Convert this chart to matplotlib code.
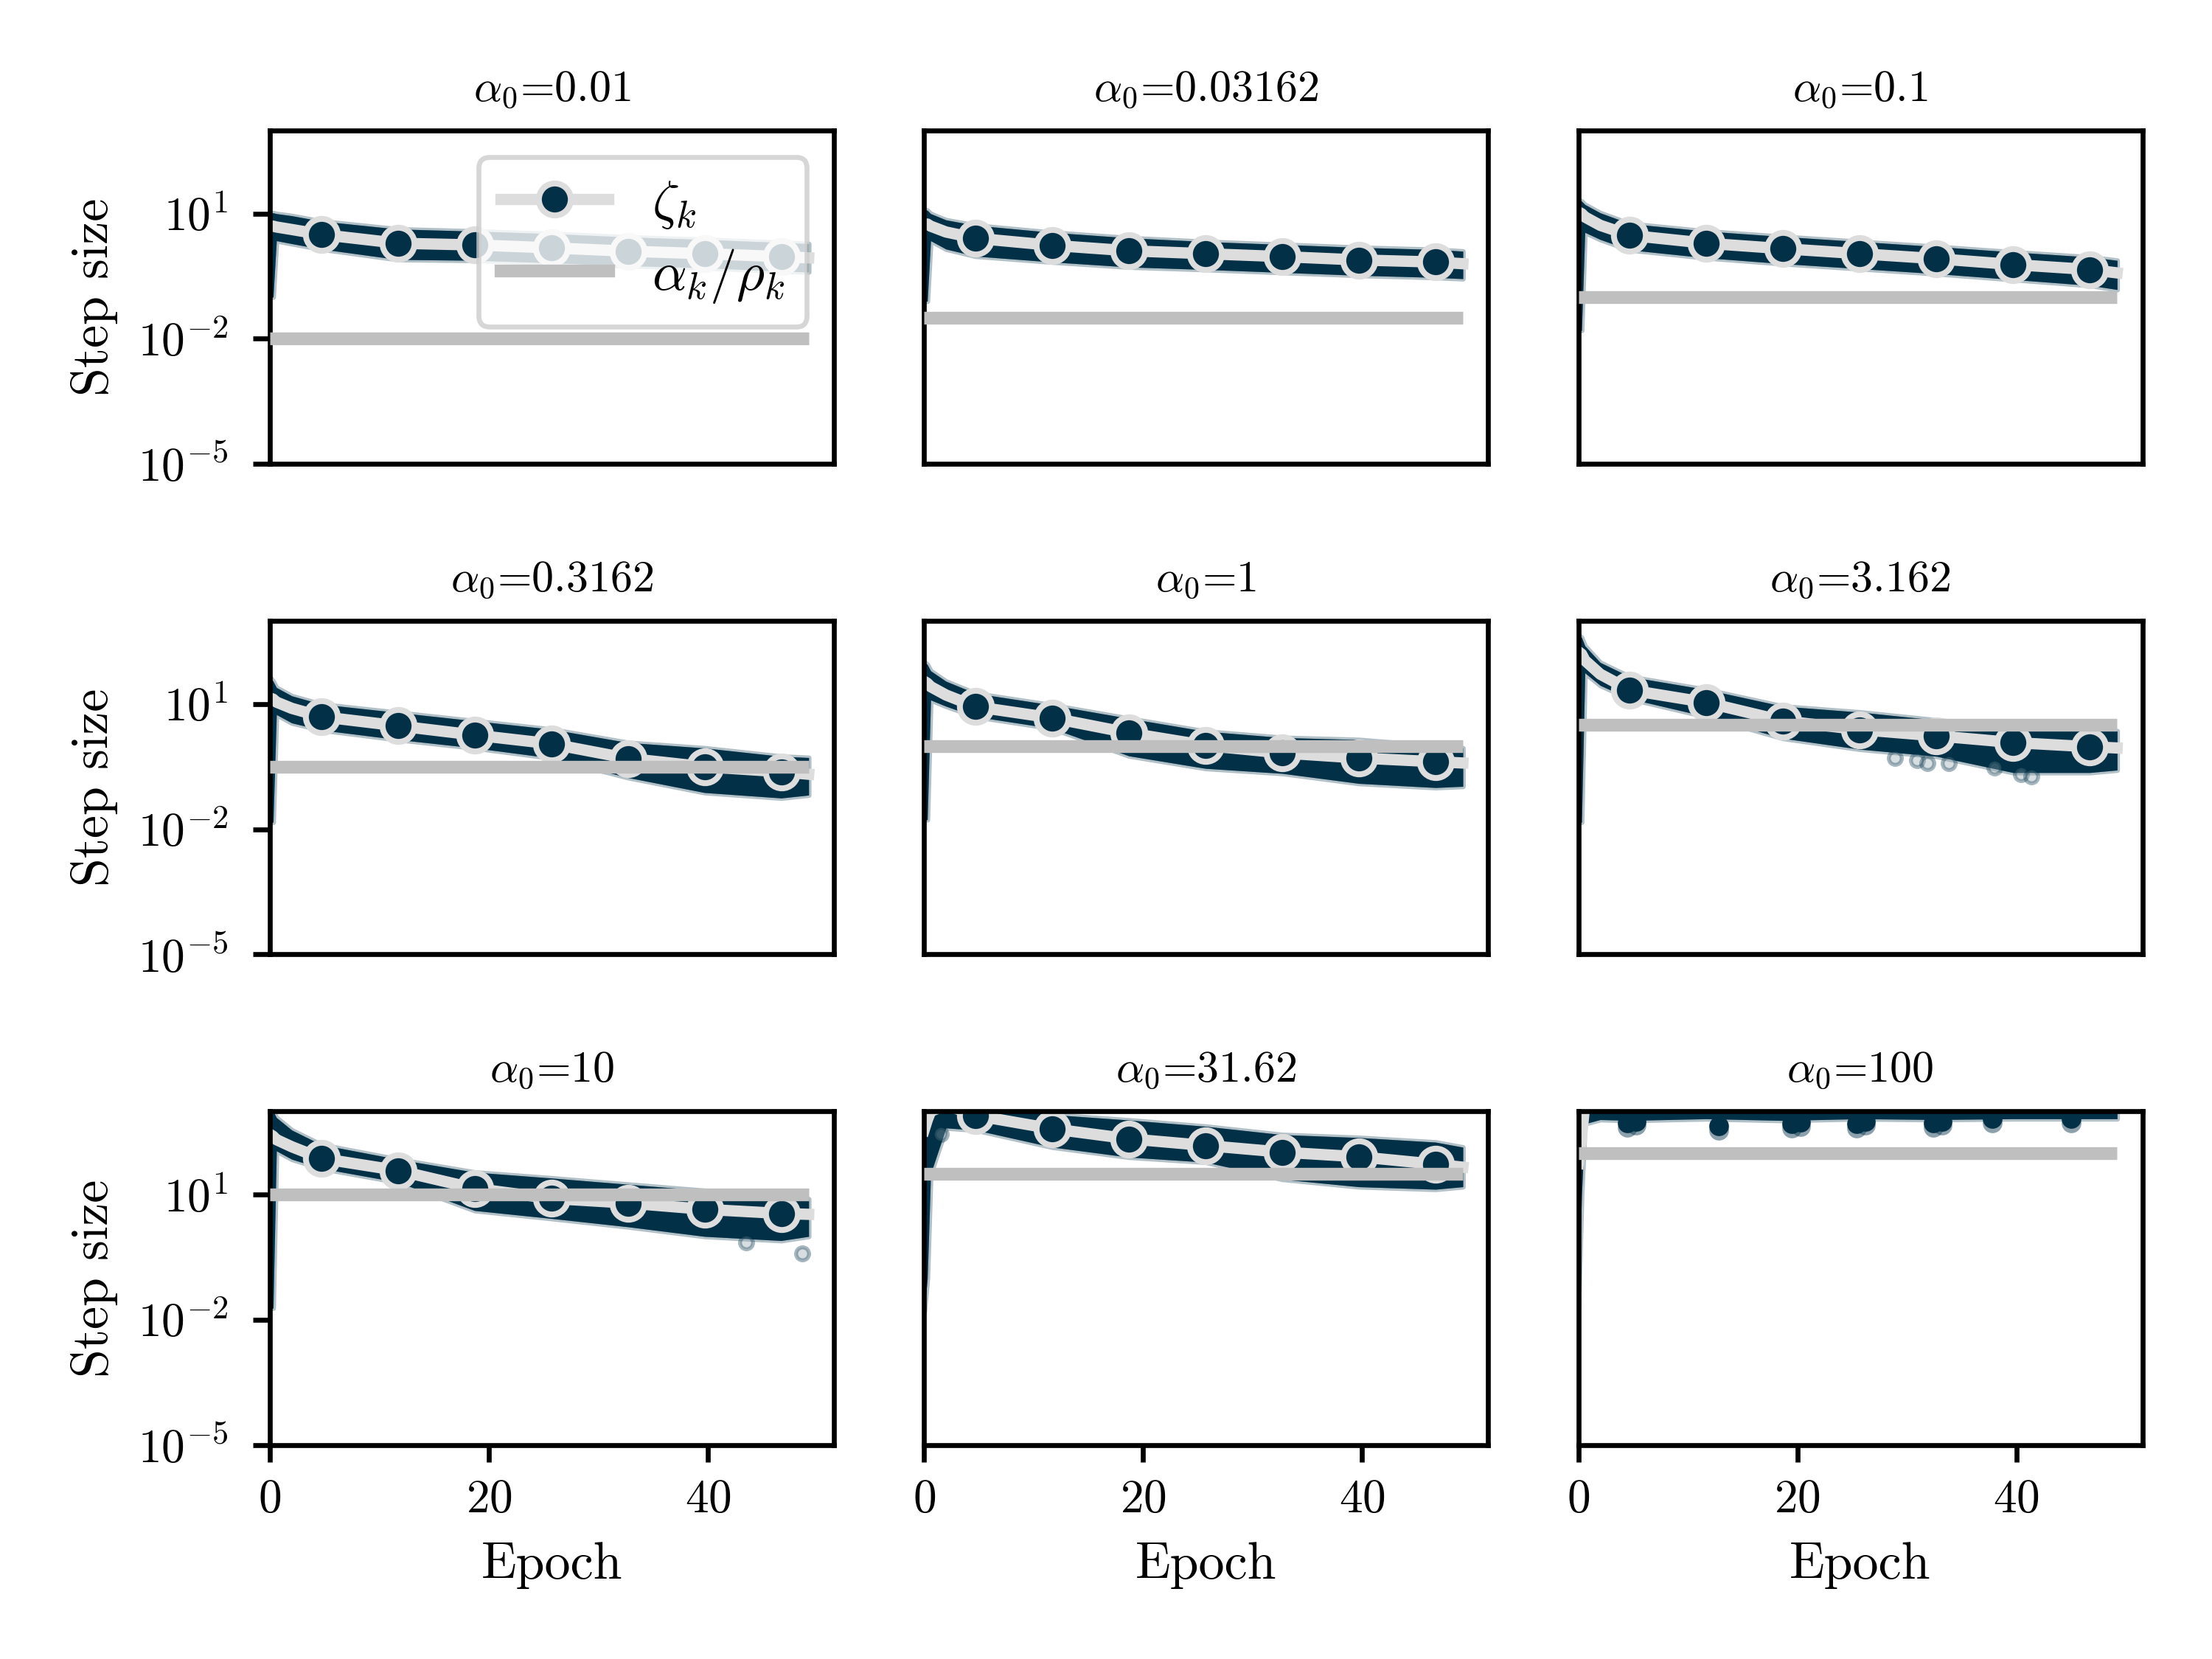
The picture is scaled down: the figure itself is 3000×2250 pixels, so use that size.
import numpy as np
import matplotlib.pyplot as plt
from matplotlib.lines import Line2D

plt.rcParams['font.family'] = 'serif'
plt.rcParams['font.serif'] = ['cmr10']
plt.rcParams['mathtext.fontset'] = 'cm'
plt.rcParams['axes.formatter.use_mathtext'] = True
plt.rcParams['axes.unicode_minus'] = False
plt.rcParams['font.size'] = 10

NAVY = '#023047'
LIGHT = '#dddddd'
GREY = '#bfbfbf'

# initial step sizes (one panel each)
alpha0 = [0.01, 0.03162, 0.1, 0.3162, 1, 3.162, 10, 31.62, 100]
alpha0_txt = ['0.01', '0.03162', '0.1', '0.3162', '1', '3.162', '10', '31.62', '100']

epochs = [0, 0.3, 0.6, 2, 4.7, 11.7, 18.7, 25.7, 32.7, 39.7, 46.7, 49.2]
mark_idx = [4, 5, 6, 7, 8, 9, 10]

# log10 of zeta_k (running line), and the upper / lower edge of the per-iteration cloud
zeta_mid = [
    [0.70, 0.70, 0.68, 0.62, 0.50, 0.29, 0.25, 0.18, 0.10, 0.04, -0.03, -0.06],
    [0.75, 0.75, 0.70, 0.56, 0.41, 0.24, 0.11, 0.04, -0.03, -0.11, -0.16, -0.20],
    [1.04, 1.00, 0.92, 0.72, 0.48, 0.29, 0.16, 0.04, -0.08, -0.22, -0.34, -0.42],
    [1.15, 1.12, 1.05, 0.90, 0.70, 0.48, 0.26, 0.05, -0.30, -0.50, -0.62, -0.68],
    [1.55, 1.50, 1.42, 1.22, 0.94, 0.67, 0.31, 0.01, -0.17, -0.29, -0.38, -0.41],
    [2.26, 2.20, 2.05, 1.72, 1.34, 1.04, 0.60, 0.39, 0.24, 0.08, -0.02, -0.05],
    [2.45, 2.40, 2.32, 2.15, 1.87, 1.58, 1.15, 0.91, 0.80, 0.65, 0.55, 0.53],
    [2.55, 2.80, 3.00, 3.15, 2.90, 2.58, 2.34, 2.18, 2.02, 1.91, 1.73, 1.66],
    [1.75, 2.40, 3.20, 3.60, 3.60, 3.60, 3.60, 3.55, 3.55, 3.50, 3.50, 3.50],
]
cloud_hi = [
    [1.00, 1.02, 1.00, 0.95, 0.82, 0.63, 0.58, 0.52, 0.44, 0.38, 0.31, 0.28],
    [1.10, 1.08, 1.00, 0.85, 0.72, 0.55, 0.42, 0.33, 0.26, 0.19, 0.14, 0.10],
    [1.32, 1.30, 1.22, 1.02, 0.76, 0.58, 0.45, 0.33, 0.21, 0.08, -0.04, -0.12],
    [1.66, 1.55, 1.40, 1.20, 1.00, 0.80, 0.60, 0.40, 0.08, -0.05, -0.25, -0.28],
    [2.02, 1.95, 1.80, 1.55, 1.26, 0.98, 0.66, 0.35, 0.20, 0.15, 0.00, -0.05],
    [2.67, 2.60, 2.40, 2.00, 1.66, 1.35, 0.95, 0.81, 0.62, 0.45, 0.38, 0.36],
    [3.10, 3.00, 2.85, 2.55, 2.20, 1.85, 1.54, 1.40, 1.25, 1.10, 0.96, 0.90],
    [3.20, 3.30, 3.40, 3.40, 3.20, 2.92, 2.79, 2.64, 2.44, 2.37, 2.26, 2.14],
    [3.50, 3.60, 3.80, 3.90, 3.90, 3.90, 3.90, 3.90, 3.90, 3.90, 3.90, 3.90],
]
cloud_lo = [
    [-1.00, -1.00, 0.35, 0.28, 0.15, -0.10, -0.12, -0.18, -0.25, -0.30, -0.38, -0.40],
    [-1.10, -1.10, 0.35, 0.15, -0.02, -0.16, -0.28, -0.34, -0.41, -0.48, -0.53, -0.56],
    [-1.80, -1.80, 0.55, 0.38, 0.13, -0.06, -0.20, -0.32, -0.44, -0.58, -0.72, -0.82],
    [-1.83, -1.83, 0.75, 0.55, 0.38, 0.15, -0.05, -0.29, -0.76, -1.12, -1.25, -1.18],
    [-1.77, -1.77, 1.10, 0.95, 0.70, 0.42, -0.24, -0.54, -0.66, -0.90, -1.00, -0.97],
    [-1.83, -1.83, 1.75, 1.45, 1.13, 0.70, 0.18, -0.08, -0.25, -0.64, -0.64, -0.58],
    [-1.72, -1.72, 2.05, 1.85, 1.63, 1.30, 0.62, 0.43, 0.23, 0.00, -0.10, 0.00],
    [-1.83, -1.00, 1.50, 2.60, 2.55, 2.14, 1.90, 1.78, 1.37, 1.19, 1.13, 1.19],
    [-1.72, 1.00, 2.70, 2.80, 2.78, 2.82, 2.78, 2.82, 2.80, 2.82, 2.82, 2.82],
]

# stray iterations lying outside the cloud (epoch, log10 step size)
stray_x = [[], [], [], [], [], [28.9, 30.9, 31.9, 33.8, 38.0, 40.4, 41.4], [43.5, 48.6], [1.5], []]
stray_y = [[], [], [], [], [], [-0.29, -0.35, -0.41, -0.41, -0.52, -0.67, -0.73], [-0.15, -0.40], [2.46], []]

# dips of the alpha0=100 cloud just below the top of the axes
dip_x = [4.5, 5.3, 12.8, 19.5, 20.3, 25.4, 26.2, 32.4, 33.2, 37.8, 45.0]
dip_y = [2.62, 2.66, 2.55, 2.60, 2.64, 2.60, 2.66, 2.62, 2.66, 2.72, 2.72]

fig, axes = plt.subplots(3, 3, figsize=(6.25, 4.6875), sharex=True, sharey=True)
fig.subplots_adjust(left=0.122, right=0.9685, top=0.9215, bottom=0.129, wspace=0.16, hspace=0.47)

for i, ax in enumerate(axes.flat):
    lo = np.power(10.0, cloud_lo[i])
    hi = np.power(10.0, cloud_hi[i])
    mid = np.power(10.0, zeta_mid[i])

    ax.fill_between(epochs, lo, hi, color=NAVY, alpha=0.3, lw=1.0, zorder=1.4)
    ax.fill_between(epochs, lo, hi, color=NAVY, lw=0, zorder=1.5)
    if stray_x[i]:
        ax.scatter(stray_x[i], np.power(10.0, stray_y[i]), s=7, facecolor='#8fa3ae',
                   edgecolor=NAVY, alpha=0.35, lw=0.8, zorder=1.6)
    if i == 8:
        ax.scatter(dip_x, np.power(10.0, dip_y), s=16, color=NAVY, alpha=0.45, lw=0, zorder=1.45)
        ax.scatter(dip_x, np.power(10.0, np.array(dip_y) + 0.1), s=16, color=NAVY, lw=0, zorder=1.5)

    ax.plot(epochs, mid, color=LIGHT, lw=2.3, marker='o', markevery=mark_idx,
            ms=6.5, mfc=NAVY, mec=LIGHT, mew=1.2, zorder=2)
    ax.plot([epochs[0], epochs[-1]], [alpha0[i], alpha0[i]], color=GREY, lw=2.6,
            solid_capstyle='butt', zorder=3)

    ax.set_title(r'$\alpha_0$=' + alpha0_txt[i], fontsize=9)
    ax.set_yscale('log')

    row, col = divmod(i, 3)
    if col == 0:
        ax.set_ylabel('Step size', fontsize=10.5)
    else:
        ax.tick_params(axis='y', left=False, labelleft=False)
    if row == 2:
        ax.set_xlabel('Epoch', fontsize=10.5)
    else:
        ax.tick_params(axis='x', bottom=False, labelbottom=False)
    for s in ax.spines.values():
        s.set_linewidth(1.0)
    ax.tick_params(width=1.0, length=3.5, labelsize=9.5)
    ax.tick_params(axis='y', pad=5)

ax0 = axes[0, 0]
ax0.set_yscale('log')
ax0.set_ylim(1e-5, 1e3)
ax0.set_yticks([1e-5, 1e-2, 1e1])
ax0.yaxis.set_minor_locator(plt.NullLocator())
ax0.set_xlim(0, 51.5)
ax0.set_xticks([0, 20, 40])

handles = [
    Line2D([], [], color=LIGHT, lw=2.3, marker='o', ms=6.5, mfc=NAVY, mec=LIGHT, mew=1.2),
    Line2D([], [], color=GREY, lw=2.6),
]
leg = ax0.legend(handles, [r'$\zeta_k$', r'$\alpha_k/\rho_k$'], loc='upper right',
                 fontsize=11, labelspacing=0.3)
leg.set_zorder(5)

fig.savefig('out.png', dpi=480)
